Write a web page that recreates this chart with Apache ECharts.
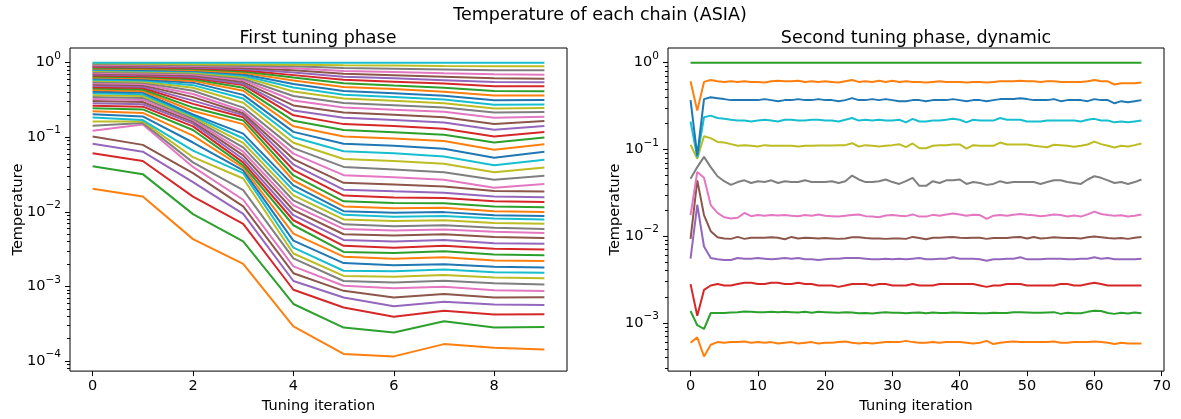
<!DOCTYPE html>
<html>
<head>
<meta charset="utf-8">
<script src="https://cdn.jsdelivr.net/npm/echarts@6/dist/echarts.min.js"></script>
<style>
  html, body { margin: 0; padding: 0; background: #fff; }
  #chart { width: 1181px; height: 419px; }
</style>
</head>
<body>
<div id="chart"></div>
<script>
// Chain temperatures during the first tuning phase: one array per iteration,
// each listing chains 1..49 from the coldest to the hottest.
const firstIterations = [0, 1, 2, 3, 4, 5, 6, 7, 8, 9];
const firstIter0 = [0.0204,0.0408,0.0612,0.0816,0.102,0.122,0.143,0.163,0.184,0.204,0.224,0.245,0.265,0.286,0.306,0.327,0.347,0.367,0.388,0.408,0.429,0.449,0.469,0.49,0.51,0.531,0.551,0.571,0.592,0.612,0.633,0.653,0.673,0.694,0.714,0.735,0.755,0.776,0.796,0.816,0.837,0.857,0.878,0.898,0.918,0.939,0.959,0.98,1];
const firstIter1 = [0.016,0.032,0.048,0.064,0.079,0.148,0.155,0.163,0.17,0.19,0.212,0.236,0.257,0.277,0.297,0.317,0.337,0.357,0.377,0.397,0.417,0.437,0.457,0.477,0.497,0.517,0.537,0.557,0.577,0.597,0.617,0.637,0.657,0.677,0.697,0.718,0.738,0.759,0.779,0.8,0.82,0.841,0.862,0.883,0.904,0.925,0.946,0.968,1];
const firstIter2 = [0.0043,0.0093,0.016,0.025,0.033,0.04,0.046,0.054,0.066,0.085,0.105,0.125,0.14,0.152,0.162,0.17,0.178,0.186,0.194,0.203,0.225,0.25,0.28,0.31,0.345,0.38,0.42,0.46,0.5,0.54,0.57,0.6,0.625,0.65,0.675,0.7,0.72,0.74,0.76,0.78,0.8,0.82,0.84,0.86,0.88,0.9,0.925,0.955,1];
const firstIter3 = [0.002,0.004,0.0069,0.0094,0.0118,0.0145,0.0195,0.028,0.033,0.036,0.039,0.042,0.046,0.051,0.057,0.064,0.073,0.084,0.097,0.112,0.15,0.168,0.185,0.198,0.21,0.225,0.25,0.29,0.33,0.37,0.42,0.46,0.5,0.52,0.55,0.58,0.61,0.64,0.67,0.7,0.73,0.76,0.79,0.82,0.85,0.88,0.91,0.945,1];
const firstIter4 = [0.00029,0.00058,0.0009,0.00118,0.0015,0.00185,0.00237,0.00276,0.0033,0.0041,0.0051,0.0066,0.0077,0.009,0.0105,0.0122,0.0142,0.0166,0.0194,0.0226,0.0263,0.0307,0.0363,0.043,0.0509,0.0603,0.0714,0.0845,0.1,0.118,0.14,0.166,0.197,0.229,0.267,0.311,0.358,0.411,0.464,0.517,0.575,0.631,0.681,0.736,0.794,0.845,0.898,0.94,1];
const firstIter5 = [0.000124,0.00028,0.00052,0.00071,0.00087,0.00102,0.00118,0.00138,0.00162,0.00205,0.0025,0.0029,0.0035,0.0042,0.005,0.0059,0.0068,0.0079,0.0091,0.0102,0.0118,0.0138,0.0165,0.0198,0.0245,0.031,0.04,0.051,0.065,0.082,0.102,0.125,0.15,0.182,0.214,0.251,0.288,0.331,0.372,0.417,0.473,0.531,0.589,0.646,0.708,0.776,0.851,0.925,1];
const firstIter6 = [0.000115,0.00024,0.00039,0.00054,0.00071,0.00094,0.00113,0.00135,0.0016,0.00192,0.00235,0.0028,0.0033,0.004,0.0048,0.0056,0.0064,0.0075,0.0086,0.0097,0.0112,0.0131,0.0156,0.0188,0.0232,0.029,0.037,0.048,0.061,0.077,0.096,0.117,0.141,0.17,0.2,0.234,0.269,0.309,0.347,0.389,0.442,0.495,0.556,0.617,0.676,0.75,0.832,0.915,1];
const firstIter7 = [0.000168,0.00034,0.00047,0.00062,0.00079,0.00099,0.00119,0.00142,0.00168,0.00198,0.00245,0.00295,0.0035,0.0042,0.005,0.0058,0.0066,0.0077,0.0088,0.0099,0.0113,0.013,0.0153,0.018,0.0218,0.027,0.034,0.044,0.055,0.07,0.089,0.108,0.13,0.158,0.186,0.219,0.251,0.285,0.32,0.359,0.407,0.462,0.525,0.582,0.646,0.724,0.813,0.905,1];
const firstIter8 = [0.00015,0.00028,0.00042,0.00057,0.00071,0.00089,0.0011,0.00131,0.00155,0.00183,0.00222,0.00268,0.0032,0.0038,0.0046,0.0054,0.0061,0.0071,0.0081,0.009,0.0102,0.0118,0.0138,0.016,0.019,0.021,0.027,0.034,0.042,0.053,0.068,0.085,0.102,0.126,0.151,0.182,0.214,0.243,0.272,0.313,0.363,0.417,0.484,0.55,0.617,0.7,0.794,0.897,1];
const firstIter9 = [0.000142,0.000284,0.000423,0.000563,0.000713,0.000867,0.00106,0.00128,0.00152,0.00179,0.00218,0.00262,0.00311,0.00374,0.00446,0.0052,0.0059,0.0069,0.0079,0.00875,0.0099,0.0115,0.0135,0.0157,0.0187,0.0236,0.0305,0.0394,0.0499,0.0637,0.0807,0.099,0.118,0.142,0.165,0.189,0.218,0.246,0.275,0.315,0.363,0.415,0.483,0.547,0.61,0.69,0.79,0.893,1];

// Chain temperatures during the second (dynamic) tuning phase, iterations 0..67.
const secondChain1 = [0.00059,0.00068,0.00041,0.00056,0.0006,0.00059,0.0006,0.0006,0.00061,0.00059,
  0.0006,0.00059,0.0006,0.00058,0.00059,0.0006,0.00058,0.00059,0.0006,0.00058,
  0.00059,0.00059,0.0006,0.00061,0.00059,0.00058,0.00059,0.00058,0.00059,0.0006,
  0.0006,0.0006,0.00062,0.0006,0.00059,0.00059,0.0006,0.00059,0.0006,0.0006,
  0.0006,0.00059,0.00058,0.00059,0.00062,0.00057,0.00059,0.0006,0.00061,0.0006,
  0.0006,0.0006,0.0006,0.0006,0.00061,0.00059,0.00059,0.0006,0.0006,0.0006,
  0.00061,0.0006,0.00059,0.00057,0.00059,0.00058,0.00058,0.00058];
const secondChain2 = [0.00137,0.00094,0.00085,0.0013,0.0013,0.0013,0.00132,0.00133,0.00135,0.00134,
  0.00133,0.00133,0.00134,0.00133,0.00134,0.00133,0.00132,0.00134,0.00131,0.00134,
  0.00133,0.00132,0.00131,0.00133,0.00132,0.00129,0.0013,0.00128,0.00131,0.00133,
  0.00131,0.00131,0.00129,0.00131,0.00132,0.00129,0.00132,0.0013,0.0013,0.00132,
  0.00131,0.0013,0.0013,0.00129,0.00129,0.00131,0.0013,0.0013,0.00133,0.00133,
  0.00132,0.00131,0.00131,0.00132,0.00133,0.00127,0.00131,0.00129,0.00129,0.00134,
  0.00138,0.00137,0.0013,0.00127,0.00131,0.00128,0.00132,0.00129];
const secondChain3 = [0.0028,0.00121,0.0024,0.0027,0.0028,0.0027,0.0027,0.0028,0.0029,0.0029,
  0.0028,0.0028,0.0029,0.0029,0.0028,0.0028,0.0029,0.0028,0.0028,0.0027,
  0.0027,0.0027,0.0026,0.0027,0.0028,0.0028,0.0028,0.0027,0.0028,0.0028,
  0.0027,0.0027,0.0027,0.0028,0.0027,0.0027,0.0027,0.0028,0.0028,0.0028,
  0.0028,0.0028,0.0028,0.0027,0.0026,0.0027,0.0027,0.0028,0.0028,0.0028,
  0.0027,0.0027,0.0027,0.0027,0.0027,0.0028,0.0028,0.0027,0.0027,0.0028,
  0.0029,0.0028,0.0027,0.0027,0.0027,0.0027,0.0027,0.0027];
const secondChain4 = [0.0055,0.023,0.0076,0.0056,0.0054,0.0053,0.0053,0.0056,0.0055,0.0055,
  0.0056,0.0055,0.0054,0.0055,0.0056,0.0055,0.0056,0.0054,0.0054,0.0053,
  0.0054,0.0055,0.0055,0.0056,0.0056,0.0056,0.0055,0.0054,0.0054,0.0055,
  0.0054,0.0055,0.0054,0.0055,0.0056,0.0054,0.0054,0.0055,0.0055,0.0057,
  0.0055,0.0055,0.0055,0.0054,0.0052,0.0054,0.0054,0.0055,0.0055,0.0057,
  0.0054,0.0054,0.0054,0.0055,0.0055,0.0055,0.0054,0.0054,0.0055,0.0055,
  0.0057,0.0055,0.0056,0.0054,0.0054,0.0054,0.0054,0.0055];
const secondChain5 = [0.0093,0.044,0.0175,0.0114,0.0097,0.0094,0.0093,0.0098,0.0093,0.0096,
  0.0096,0.0096,0.0097,0.0096,0.0092,0.0098,0.0094,0.0096,0.0095,0.0094,
  0.0095,0.0094,0.0093,0.0094,0.0097,0.0097,0.0095,0.0094,0.0094,0.0093,
  0.0094,0.0094,0.0093,0.0098,0.0095,0.0092,0.0096,0.0096,0.0097,0.0098,
  0.0096,0.0095,0.0096,0.0096,0.0093,0.0095,0.0095,0.0095,0.0097,0.0098,
  0.0094,0.0098,0.0094,0.0095,0.0097,0.0096,0.0095,0.0095,0.0094,0.0097,
  0.0099,0.0097,0.0095,0.0094,0.0095,0.0093,0.0096,0.0098];
const secondChain6 = [0.0175,0.055,0.047,0.0228,0.0185,0.0165,0.016,0.0163,0.0185,0.017,
  0.0175,0.0172,0.0175,0.0173,0.0175,0.0172,0.017,0.0175,0.0172,0.0178,
  0.0172,0.017,0.0168,0.0172,0.0175,0.0178,0.017,0.0168,0.0165,0.0173,
  0.0175,0.0172,0.017,0.0178,0.0168,0.0168,0.0176,0.0172,0.0178,0.0182,
  0.0178,0.0172,0.0176,0.0175,0.0158,0.0172,0.0175,0.0172,0.0176,0.018,
  0.0176,0.0174,0.017,0.0173,0.0178,0.0175,0.0168,0.0173,0.0168,0.0178,
  0.0192,0.018,0.0175,0.0172,0.0174,0.0168,0.0172,0.0178];
const secondChain7 = [0.046,0.0625,0.082,0.0625,0.049,0.043,0.039,0.042,0.044,0.041,
  0.043,0.042,0.044,0.041,0.043,0.042,0.042,0.044,0.042,0.042,
  0.042,0.043,0.041,0.043,0.05,0.045,0.042,0.042,0.043,0.045,
  0.042,0.04,0.043,0.047,0.038,0.038,0.043,0.041,0.044,0.044,
  0.045,0.04,0.042,0.041,0.039,0.04,0.043,0.041,0.042,0.042,
  0.042,0.042,0.04,0.042,0.044,0.044,0.042,0.041,0.04,0.045,
  0.049,0.047,0.044,0.041,0.042,0.04,0.042,0.045];
const secondChain8 = [0.113,0.078,0.142,0.135,0.122,0.12,0.115,0.11,0.112,0.11,
  0.108,0.112,0.11,0.11,0.11,0.11,0.108,0.11,0.11,0.111,
  0.111,0.111,0.112,0.112,0.118,0.108,0.112,0.11,0.108,0.11,
  0.112,0.115,0.106,0.117,0.103,0.103,0.11,0.112,0.112,0.114,
  0.114,0.102,0.112,0.11,0.11,0.11,0.12,0.114,0.114,0.114,
  0.114,0.11,0.108,0.106,0.113,0.112,0.11,0.107,0.11,0.114,
  0.123,0.115,0.11,0.105,0.11,0.108,0.112,0.117];
const secondChain9 = [0.21,0.081,0.235,0.245,0.23,0.225,0.22,0.215,0.215,0.21,
  0.215,0.22,0.215,0.21,0.22,0.22,0.215,0.215,0.22,0.22,
  0.215,0.215,0.21,0.22,0.23,0.215,0.22,0.215,0.22,0.215,
  0.215,0.22,0.205,0.225,0.21,0.21,0.215,0.215,0.22,0.225,
  0.22,0.205,0.22,0.215,0.215,0.215,0.23,0.22,0.22,0.22,
  0.21,0.21,0.21,0.215,0.215,0.215,0.215,0.215,0.21,0.22,
  0.225,0.215,0.215,0.205,0.21,0.205,0.21,0.215];
const secondChain10 = [0.37,0.085,0.38,0.4,0.39,0.38,0.37,0.37,0.37,0.37,
  0.37,0.38,0.37,0.36,0.37,0.37,0.38,0.37,0.37,0.38,
  0.37,0.37,0.36,0.37,0.39,0.37,0.37,0.38,0.37,0.38,
  0.37,0.36,0.36,0.37,0.37,0.36,0.37,0.37,0.37,0.38,
  0.37,0.36,0.37,0.37,0.36,0.37,0.38,0.38,0.38,0.39,
  0.38,0.37,0.37,0.37,0.38,0.36,0.37,0.37,0.37,0.36,
  0.38,0.37,0.37,0.34,0.36,0.35,0.36,0.37];
const secondChain11 = [0.61,0.28,0.6,0.63,0.61,0.6,0.61,0.6,0.61,0.6,
  0.6,0.59,0.61,0.62,0.61,0.61,0.62,0.6,0.61,0.6,
  0.61,0.6,0.59,0.61,0.63,0.6,0.61,0.6,0.62,0.6,
  0.62,0.6,0.61,0.6,0.6,0.59,0.6,0.61,0.6,0.6,
  0.6,0.59,0.6,0.6,0.59,0.6,0.61,0.61,0.61,0.62,
  0.61,0.61,0.6,0.61,0.61,0.6,0.6,0.6,0.6,0.61,
  0.63,0.61,0.61,0.56,0.58,0.58,0.58,0.59];
const secondChain12 = [1,1,1,1,1,1,1,1,1,1,
  1,1,1,1,1,1,1,1,1,1,
  1,1,1,1,1,1,1,1,1,1,
  1,1,1,1,1,1,1,1,1,1,
  1,1,1,1,1,1,1,1,1,1,
  1,1,1,1,1,1,1,1,1,1,
  1,1,1,1,1,1,1,1];

// Axis ticks
const firstXTicks = [0, 2, 4, 6, 8];
const secondXTicks = [0, 10, 20, 30, 40, 50, 60, 70];
const firstDecades = [1e-4, 1e-3, 1e-2, 1e-1, 1];
const secondDecades = [1e-3, 1e-2, 1e-1, 1];

// matplotlib tab10 cycle
const TAB10 = ['#1f77b4', '#ff7f0e', '#2ca02c', '#d62728', '#9467bd',
               '#8c564b', '#e377c2', '#7f7f7f', '#bcbd22', '#17becf'];

const FONT = 'DejaVu Sans';
const INK = '#000';

const firstColumns = [firstIter0, firstIter1, firstIter2, firstIter3, firstIter4,
                      firstIter5, firstIter6, firstIter7, firstIter8, firstIter9];
const secondChains = [secondChain1, secondChain2, secondChain3, secondChain4, secondChain5, secondChain6,
                      secondChain7, secondChain8, secondChain9, secondChain10, secondChain11, secondChain12];
const secondIterations = secondChain1.map((_, k) => k);

// minor ticks at 2..9 x 10^n inside [lo, hi]
function minorLogTicks(lo, hi) {
  const out = [];
  for (let e = Math.floor(Math.log10(lo)); e <= Math.ceil(Math.log10(hi)); e++) {
    for (let m = 2; m <= 9; m++) {
      const v = m * Math.pow(10, e);
      if (v >= lo && v <= hi) out.push(v);
    }
  }
  return out;
}

function decadeLabel(v) {
  const e = Math.round(Math.log10(v));
  return '{b|10}{s|' + (e < 0 ? '\u2212' + (-e) : String(e)) + '}';
}

const tickStyle = { color: INK, width: 1 };
const labelRich = {
  b: { fontFamily: FONT, fontSize: 14.5, color: INK, lineHeight: 24 },
  s: { fontFamily: FONT, fontSize: 10.5, color: INK, verticalAlign: 'top' }
};

function xAxisFor(gridIndex, min, max, ticks) {
  return {
    gridIndex, type: 'value', min, max,
    axisLine: { show: false, onZero: false },
    axisTick: { show: true, customValues: ticks, length: 5, lineStyle: tickStyle },
    axisLabel: { customValues: ticks, margin: 8, fontFamily: FONT, fontSize: 14.5, color: INK },
    splitLine: { show: false },
    name: 'Tuning iteration', nameLocation: 'middle', nameGap: 24,
    nameTextStyle: { fontFamily: FONT, fontSize: 14.5, color: INK }
  };
}

function yMajorFor(gridIndex, min, max, ticks, nameGap) {
  return {
    gridIndex, type: 'log', logBase: 10, min, max, position: 'left',
    axisLine: { show: false, onZero: false },
    axisTick: { show: true, customValues: ticks, length: 5, lineStyle: tickStyle },
    axisLabel: { customValues: ticks, margin: 9, formatter: decadeLabel, rich: labelRich },
    splitLine: { show: false },
    name: 'Temperature', nameLocation: 'middle', nameGap, nameRotate: 90,
    nameMoveOverlap: false,
    nameTextStyle: { fontFamily: FONT, fontSize: 14.5, color: INK }
  };
}

function yMinorFor(gridIndex, min, max) {
  return {
    gridIndex, type: 'log', logBase: 10, min, max, position: 'left', offset: 0,
    axisLine: { show: false, onZero: false },
    axisTick: { show: true, customValues: minorLogTicks(min, max), length: 3, lineStyle: tickStyle },
    axisLabel: { show: false },
    splitLine: { show: false }
  };
}

const firstMin = 7.3e-5, firstMax = 1.574;
const secondMin = 2.78e-4, secondMax = 1.476;

const series = [];
for (let c = 0; c < firstIter0.length; c++) {
  const color = TAB10[(c + 1) % 10];
  series.push({
    type: 'line', xAxisIndex: 0, yAxisIndex: 0,
    data: firstColumns.map((col, x) => [firstIterations[x], col[c]]),
    showSymbol: false, symbol: 'none', silent: true,
    lineStyle: { width: 2, color }, itemStyle: { color }
  });
}
secondChains.forEach((chain, c) => {
  const color = TAB10[(c + 1) % 10];
  series.push({
    type: 'line', xAxisIndex: 1, yAxisIndex: 2,
    data: chain.map((v, k) => [secondIterations[k], v]),
    showSymbol: false, symbol: 'none', silent: true,
    lineStyle: { width: 2, color }, itemStyle: { color }
  });
});

const titleStyle = { fontFamily: FONT, fontSize: 17.5, fontWeight: 'normal', color: INK };

const chart = echarts.init(document.getElementById('chart'), null, { renderer: 'canvas' });
chart.setOption({
  animation: false,
  backgroundColor: '#fff',
  title: [
    { text: 'Temperature of each chain (ASIA)', left: 600, top: 6, textAlign: 'center', padding: 0, textStyle: titleStyle },
    { text: 'First tuning phase', left: 318, top: 29, textAlign: 'center', padding: 0, textStyle: titleStyle },
    { text: 'Second tuning phase, dynamic', left: 916, top: 29, textAlign: 'center', padding: 0, textStyle: titleStyle }
  ],
  grid: [
    { left: 70, right: 614, top: 48, bottom: 44, show: true, borderColor: INK, borderWidth: 1, backgroundColor: 'transparent' },
    { left: 668, right: 17, top: 48, bottom: 44, show: true, borderColor: INK, borderWidth: 1, backgroundColor: 'transparent' }
  ],
  xAxis: [
    xAxisFor(0, -0.45, 9.45, firstXTicks),
    xAxisFor(1, -3.35, 70.35, secondXTicks)
  ],
  yAxis: [
    yMajorFor(0, firstMin, firstMax, firstDecades, 44),
    yMinorFor(0, firstMin, firstMax),
    yMajorFor(1, secondMin, secondMax, secondDecades, 45),
    yMinorFor(1, secondMin, secondMax)
  ],
  series
});
</script>
</body>
</html>
